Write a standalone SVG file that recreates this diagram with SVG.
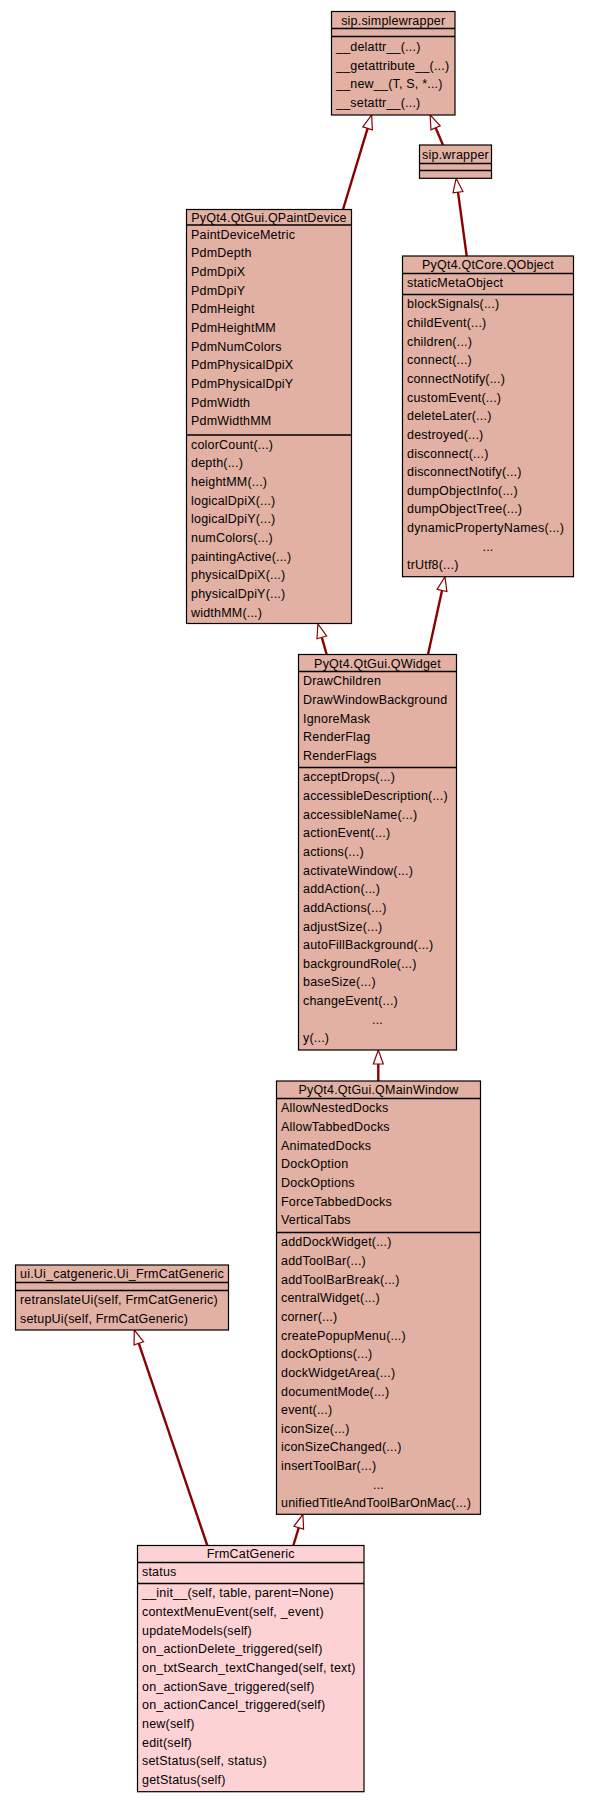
<svg xmlns="http://www.w3.org/2000/svg" width="589" height="1803" viewBox="0 0 589 1803">
<style>
.bg{fill:#ffffff}
.box{fill:#e2b1a3;stroke:#000;stroke-width:1.2}
.box2{fill:#fdd2d5;stroke:#000;stroke-width:1.2}
.sep{stroke:#000;stroke-width:1.6}
text{font-family:"Liberation Sans",Arial,sans-serif;font-size:12.5px;letter-spacing:0.2px;fill:#000}
.m{text-anchor:middle}
.edge{fill:none;stroke:#8b0000;stroke-width:2.4}
</style>
<defs>
<marker id="inh" markerUnits="userSpaceOnUse" markerWidth="16" markerHeight="12" viewBox="0 -6 16 12" refX="0" refY="0" orient="auto" overflow="visible">
<path d="M0,-5 L14,0 L0,5 Z" fill="#ffffff" stroke="#8b0000" stroke-width="1.2"/>
</marker>
</defs>
<rect class="bg" x="0" y="0" width="589" height="1803"/>

<g id="connectors">
<path class="edge" d="M343,209.5 L367.6,128.4" marker-end="url(#inh)"/>
<path class="edge" d="M443,145 L435.6,127.8" marker-end="url(#inh)"/>
<path class="edge" d="M466.7,256 L458,192.2" marker-end="url(#inh)"/>
<path class="edge" d="M326.7,654.5 L321.8,637.4" marker-end="url(#inh)"/>
<path class="edge" d="M428,654.5 L442,590.4" marker-end="url(#inh)"/>
<path class="edge" d="M378.3,1081 L378.3,1064" marker-end="url(#inh)"/>
<path class="edge" d="M293.3,1545.5 L298.8,1527.7" marker-end="url(#inh)"/>
<path class="edge" d="M207.3,1545.5 L138.8,1343.3" marker-end="url(#inh)"/>
</g>

<g id="sip_simplewrapper">
<rect class="box" x="331.5" y="11.5" width="123.5" height="103.5"/>
<line class="sep" x1="331.5" y1="28.5" x2="455" y2="28.5"/>
<line class="sep" x1="331.5" y1="36.5" x2="455" y2="36.5"/>
<text class="m" x="393.25" y="24.5">sip.simplewrapper</text>
<text x="336" y="51.3">__delattr__(...)</text>
<text x="336" y="69.8">__getattribute__(...)</text>
<text x="336" y="88.3">__new__(T, S, *...)</text>
<text x="336" y="106.8">__setattr__(...)</text>
</g>

<g id="sip_wrapper">
<rect class="box" x="419.5" y="145" width="72" height="33.3"/>
<line class="sep" x1="419.5" y1="163.5" x2="491.5" y2="163.5"/>
<line class="sep" x1="419.5" y1="170.5" x2="491.5" y2="170.5"/>
<text class="m" x="455.5" y="158.5">sip.wrapper</text>
</g>

<g id="QPaintDevice">
<rect class="box" x="186.5" y="209.5" width="165" height="414"/>
<line class="sep" x1="186.5" y1="225" x2="351.5" y2="225"/>
<line class="sep" x1="186.5" y1="435" x2="351.5" y2="435"/>
<text class="m" x="269" y="221.5">PyQt4.QtGui.QPaintDevice</text>
<text x="191" y="238.8">PaintDeviceMetric</text>
<text x="191" y="257.45">PdmDepth</text>
<text x="191" y="276.1">PdmDpiX</text>
<text x="191" y="294.75">PdmDpiY</text>
<text x="191" y="313.4">PdmHeight</text>
<text x="191" y="332.05">PdmHeightMM</text>
<text x="191" y="350.7">PdmNumColors</text>
<text x="191" y="369.35">PdmPhysicalDpiX</text>
<text x="191" y="388">PdmPhysicalDpiY</text>
<text x="191" y="406.65">PdmWidth</text>
<text x="191" y="425.3">PdmWidthMM</text>
<text x="191" y="448.8">colorCount(...)</text>
<text x="191" y="467.45">depth(...)</text>
<text x="191" y="486.1">heightMM(...)</text>
<text x="191" y="504.75">logicalDpiX(...)</text>
<text x="191" y="523.4">logicalDpiY(...)</text>
<text x="191" y="542.05">numColors(...)</text>
<text x="191" y="560.7">paintingActive(...)</text>
<text x="191" y="579.35">physicalDpiX(...)</text>
<text x="191" y="598">physicalDpiY(...)</text>
<text x="191" y="616.65">widthMM(...)</text>
</g>

<g id="QObject">
<rect class="box" x="402.5" y="256" width="171" height="320.7"/>
<line class="sep" x1="402.5" y1="273.5" x2="573.5" y2="273.5"/>
<line class="sep" x1="402.5" y1="294.5" x2="573.5" y2="294.5"/>
<text class="m" x="488" y="269.2">PyQt4.QtCore.QObject</text>
<text x="407" y="287.3">staticMetaObject</text>
<text x="407" y="308.3">blockSignals(...)</text>
<text x="407" y="326.95">childEvent(...)</text>
<text x="407" y="345.6">children(...)</text>
<text x="407" y="364.25">connect(...)</text>
<text x="407" y="382.9">connectNotify(...)</text>
<text x="407" y="401.55">customEvent(...)</text>
<text x="407" y="420.2">deleteLater(...)</text>
<text x="407" y="438.85">destroyed(...)</text>
<text x="407" y="457.5">disconnect(...)</text>
<text x="407" y="476.15">disconnectNotify(...)</text>
<text x="407" y="494.8">dumpObjectInfo(...)</text>
<text x="407" y="513.45">dumpObjectTree(...)</text>
<text x="407" y="532.1">dynamicPropertyNames(...)</text>
<text class="m" x="488" y="550.75">...</text>
<text x="407" y="569.4">trUtf8(...)</text>
</g>

<g id="QWidget">
<rect class="box" x="298.5" y="654.5" width="158" height="395.5"/>
<line class="sep" x1="298.5" y1="671.5" x2="456.5" y2="671.5"/>
<line class="sep" x1="298.5" y1="767.5" x2="456.5" y2="767.5"/>
<text class="m" x="377.5" y="667.5">PyQt4.QtGui.QWidget</text>
<text x="303" y="685.3">DrawChildren</text>
<text x="303" y="703.95">DrawWindowBackground</text>
<text x="303" y="722.6">IgnoreMask</text>
<text x="303" y="741.25">RenderFlag</text>
<text x="303" y="759.9">RenderFlags</text>
<text x="303" y="781.3">acceptDrops(...)</text>
<text x="303" y="799.95">accessibleDescription(...)</text>
<text x="303" y="818.6">accessibleName(...)</text>
<text x="303" y="837.25">actionEvent(...)</text>
<text x="303" y="855.9">actions(...)</text>
<text x="303" y="874.55">activateWindow(...)</text>
<text x="303" y="893.2">addAction(...)</text>
<text x="303" y="911.85">addActions(...)</text>
<text x="303" y="930.5">adjustSize(...)</text>
<text x="303" y="949.15">autoFillBackground(...)</text>
<text x="303" y="967.8">backgroundRole(...)</text>
<text x="303" y="986.45">baseSize(...)</text>
<text x="303" y="1005.1">changeEvent(...)</text>
<text class="m" x="377.5" y="1023.75">...</text>
<text x="303" y="1042.4">y(...)</text>
</g>

<g id="QMainWindow">
<rect class="box" x="276.5" y="1081" width="204" height="433.3"/>
<line class="sep" x1="276.5" y1="1098.5" x2="480.5" y2="1098.5"/>
<line class="sep" x1="276.5" y1="1232.5" x2="480.5" y2="1232.5"/>
<text class="m" x="378.5" y="1094">PyQt4.QtGui.QMainWindow</text>
<text x="281" y="1112.3">AllowNestedDocks</text>
<text x="281" y="1130.95">AllowTabbedDocks</text>
<text x="281" y="1149.6">AnimatedDocks</text>
<text x="281" y="1168.25">DockOption</text>
<text x="281" y="1186.9">DockOptions</text>
<text x="281" y="1205.55">ForceTabbedDocks</text>
<text x="281" y="1224.2">VerticalTabs</text>
<text x="281" y="1246.3">addDockWidget(...)</text>
<text x="281" y="1264.95">addToolBar(...)</text>
<text x="281" y="1283.6">addToolBarBreak(...)</text>
<text x="281" y="1302.25">centralWidget(...)</text>
<text x="281" y="1320.9">corner(...)</text>
<text x="281" y="1339.55">createPopupMenu(...)</text>
<text x="281" y="1358.2">dockOptions(...)</text>
<text x="281" y="1376.85">dockWidgetArea(...)</text>
<text x="281" y="1395.5">documentMode(...)</text>
<text x="281" y="1414.15">event(...)</text>
<text x="281" y="1432.8">iconSize(...)</text>
<text x="281" y="1451.45">iconSizeChanged(...)</text>
<text x="281" y="1470.1">insertToolBar(...)</text>
<text class="m" x="378.5" y="1488.75">...</text>
<text x="281" y="1507.4">unifiedTitleAndToolBarOnMac(...)</text>
</g>

<g id="Ui_FrmCatGeneric">
<rect class="box" x="15.5" y="1265" width="213" height="65"/>
<line class="sep" x1="15.5" y1="1282.5" x2="228.5" y2="1282.5"/>
<line class="sep" x1="15.5" y1="1290.5" x2="228.5" y2="1290.5"/>
<text class="m" x="122" y="1278">ui.Ui_catgeneric.Ui_FrmCatGeneric</text>
<text x="20" y="1304.3">retranslateUi(self, FrmCatGeneric)</text>
<text x="20" y="1322.95">setupUi(self, FrmCatGeneric)</text>
</g>

<g id="FrmCatGeneric">
<rect class="box2" x="137.5" y="1545.5" width="226.5" height="246.2"/>
<line class="sep" x1="137.5" y1="1562.5" x2="364" y2="1562.5"/>
<line class="sep" x1="137.5" y1="1583.5" x2="364" y2="1583.5"/>
<text class="m" x="250.75" y="1558.3">FrmCatGeneric</text>
<text x="142" y="1576.3">status</text>
<text x="142" y="1597.3">__init__(self, table, parent=None)</text>
<text x="142" y="1615.95">contextMenuEvent(self, _event)</text>
<text x="142" y="1634.6">updateModels(self)</text>
<text x="142" y="1653.25">on_actionDelete_triggered(self)</text>
<text x="142" y="1671.9">on_txtSearch_textChanged(self, text)</text>
<text x="142" y="1690.55">on_actionSave_triggered(self)</text>
<text x="142" y="1709.2">on_actionCancel_triggered(self)</text>
<text x="142" y="1727.85">new(self)</text>
<text x="142" y="1746.5">edit(self)</text>
<text x="142" y="1765.15">setStatus(self, status)</text>
<text x="142" y="1783.8">getStatus(self)</text>
</g>
</svg>
